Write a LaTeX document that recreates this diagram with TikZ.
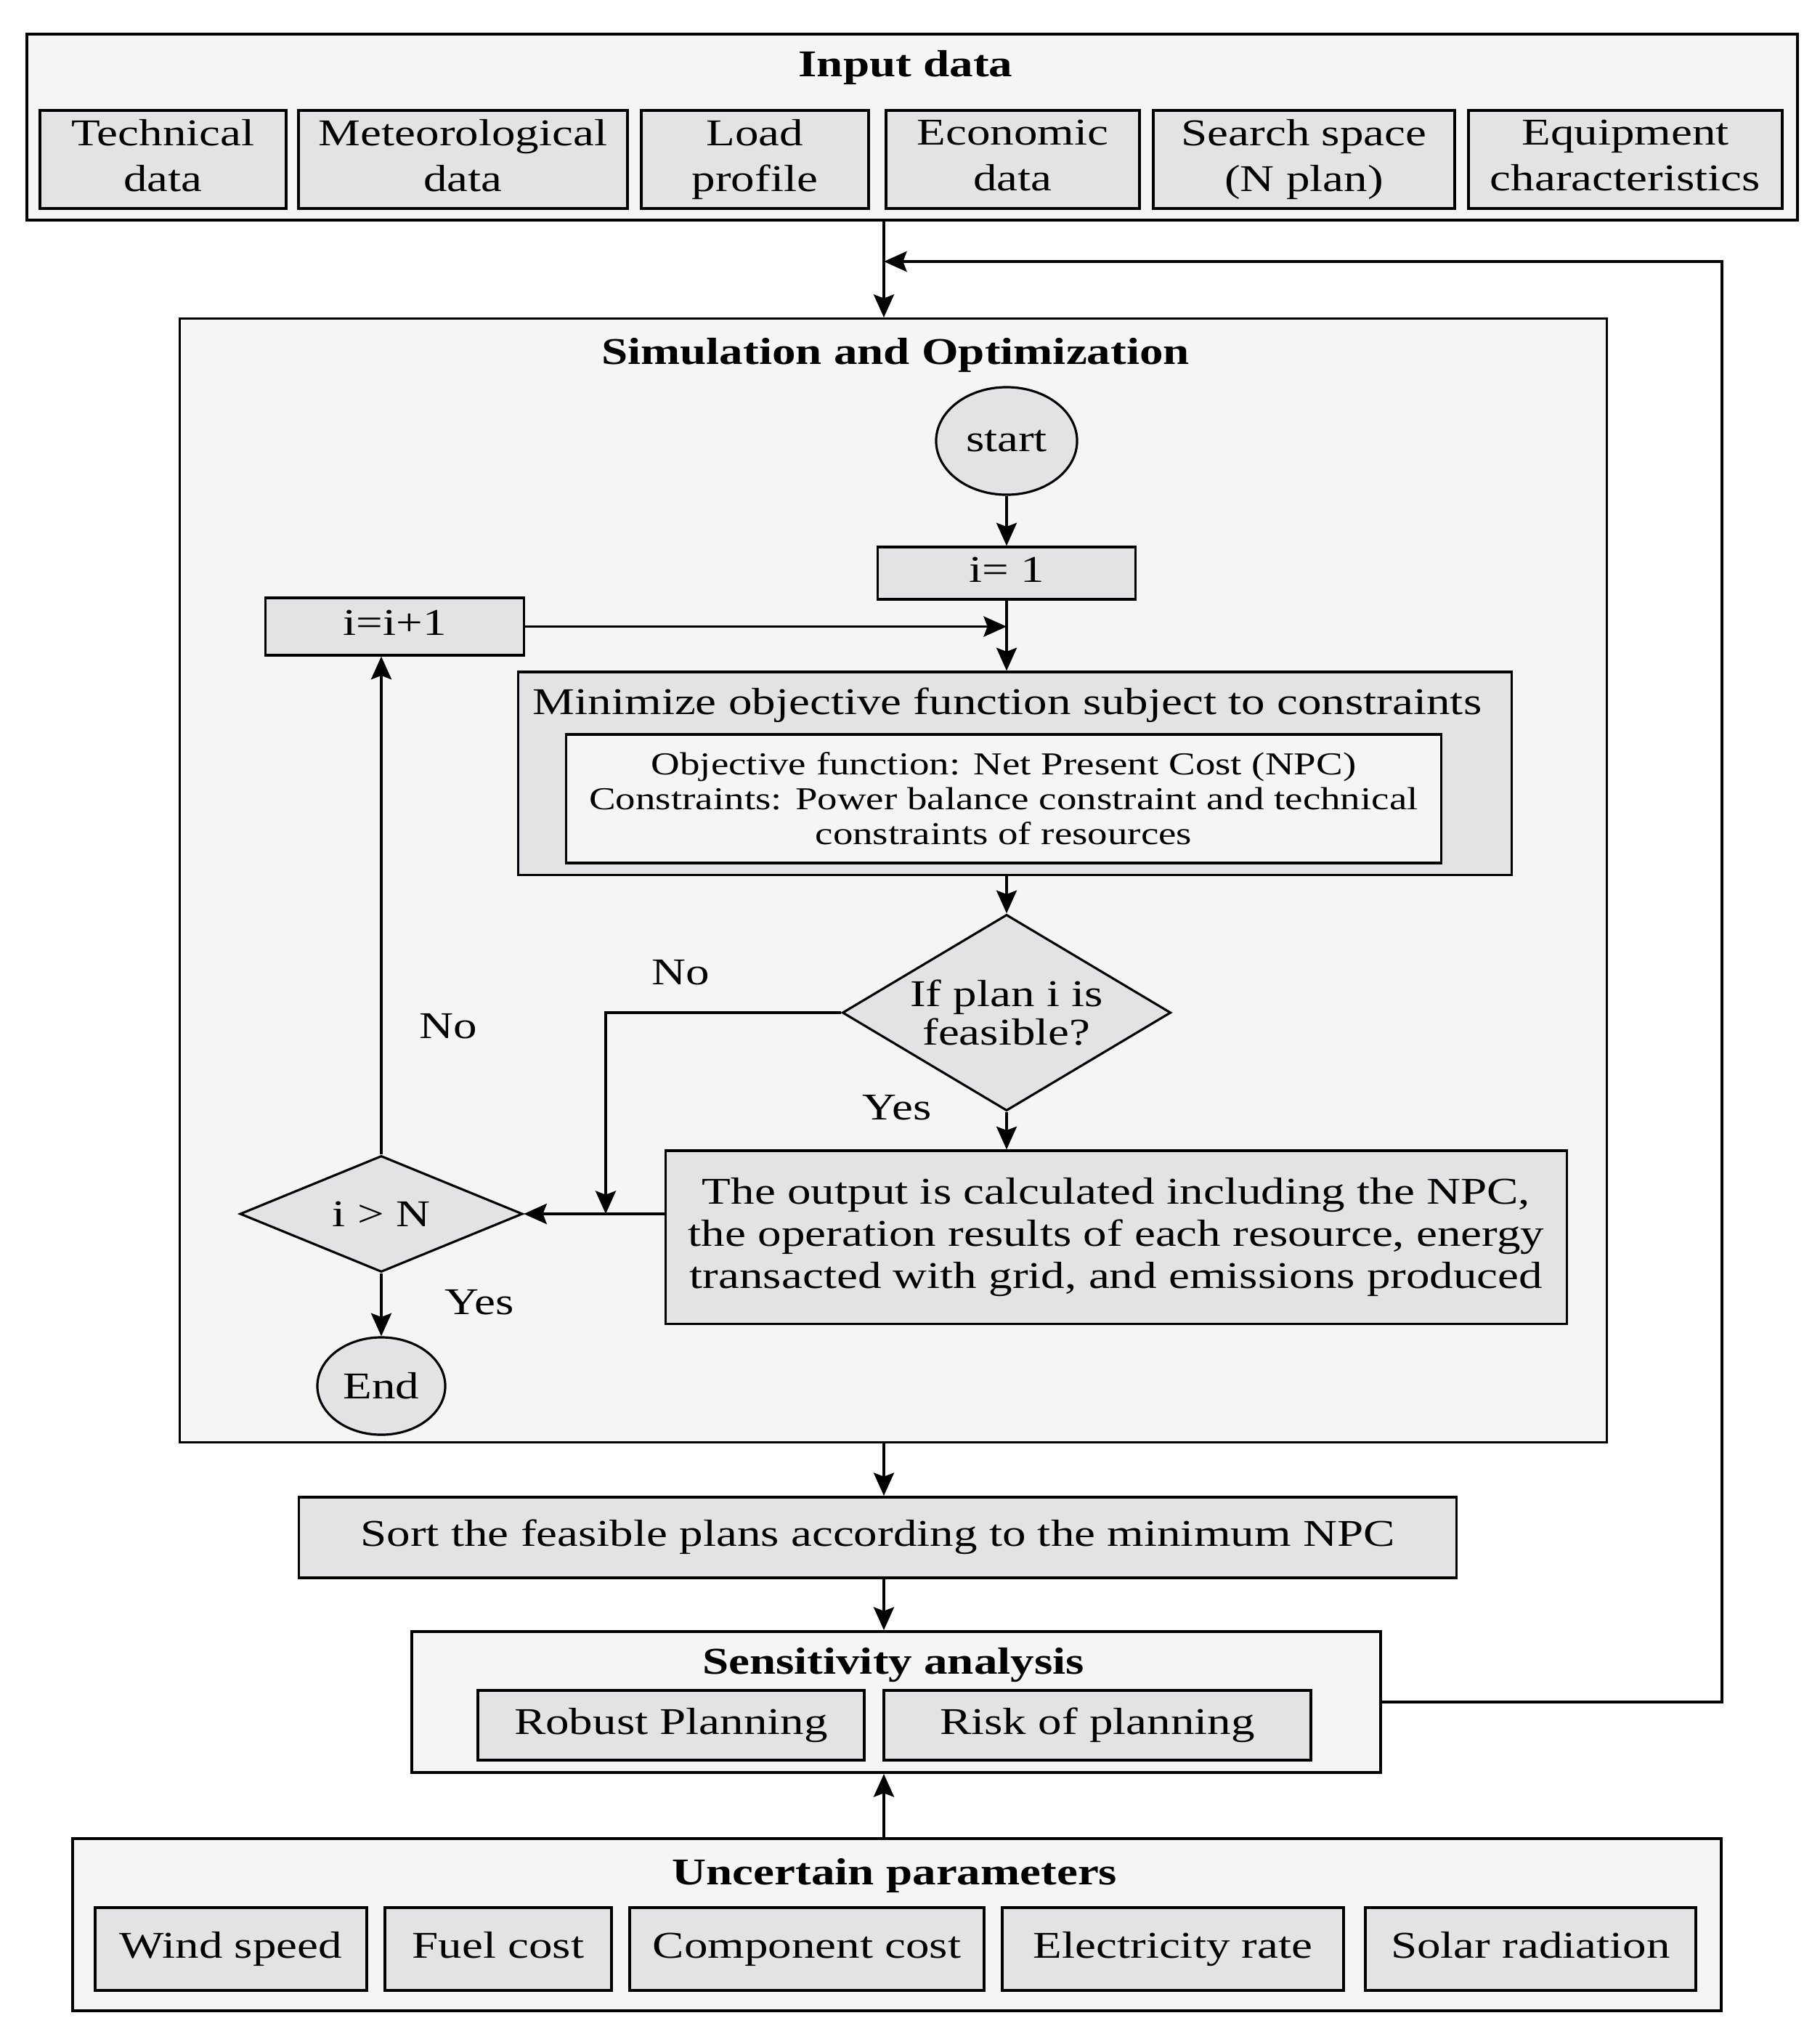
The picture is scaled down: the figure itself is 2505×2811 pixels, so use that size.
\documentclass[tikz,border=0pt]{standalone}
\usepackage{fontspec}
\setmainfont{Liberation Serif}[FakeStretch=1.25]
\usetikzlibrary{arrows.meta,shapes.geometric}
\definecolor{lightbg}{HTML}{F5F5F5}
\definecolor{boxgray}{HTML}{E3E3E5}
\newcommand{\bstrut}{\rule[-0.23em]{0pt}{0.93em}}
\begin{document}
\begin{tikzpicture}[x=0.01cm,y=-0.01cm,
  font=\fontsize{14.8}{17.9}\selectfont,
  outerbox/.style={draw, line width=1.1pt, fill=lightbg, inner sep=0pt},
  graybox/.style={draw, line width=1.1pt, fill=boxgray, inner sep=0pt, align=center,
     execute at begin node=\bstrut, execute at end node=\bstrut},
  flowbox/.style={draw, line width=0.9pt, fill=boxgray, inner sep=0pt, align=center,
     execute at begin node=\bstrut, execute at end node=\bstrut},
  decision/.style={diamond, draw, line width=0.9pt, fill=boxgray, inner sep=0pt, align=center},
  terminal/.style={ellipse, draw, line width=0.9pt, fill=boxgray, inner sep=0pt},
  arr/.style={-{Stealth[length=9pt,width=8pt,inset=1.5pt]}, line width=0.9pt},
  lbl/.style={inner sep=0pt},
  titlefont/.style={font=\fontsize{14.8}{17.9}\selectfont\bfseries, inner sep=0pt}]
\useasboundingbox (0,0) rectangle (2505,2811);

% helper coordinates
\coordinate (mainx) at (1217,0);
\coordinate (cx) at (1386,0);
\coordinate (nox) at (834,0);
\coordinate (loopR) at (2371,360);

% Input data
\node[outerbox, minimum width=24.36cm, minimum height=2.56cm] (input) at (1256,175) {};
\node[titlefont] (inputT) at (1247,93) {Input data};
\node[graybox, minimum width=3.39cm, minimum height=1.35cm] (tech) at (224.5,219.5) {Technical\\data};
\node[graybox, minimum width=4.53cm, minimum height=1.35cm] (meteo) at (637.5,219.5) {Meteorological\\data};
\node[graybox, minimum width=3.13cm, minimum height=1.35cm] (load) at (1039.5,219.5) {Load\\profile};
\node[graybox, minimum width=3.49cm, minimum height=1.35cm] (econ) at (1394.5,219.5) {Economic\\data};
\node[graybox, minimum width=4.15cm, minimum height=1.35cm] (search) at (1795.5,219.5) {Search space\\(N plan)};
\node[graybox, minimum width=4.32cm, minimum height=1.35cm] (equip) at (2238,219.5) {Equipment\\characteristics};

% Simulation and optimization
\node[outerbox, line width=0.9pt, minimum width=19.64cm, minimum height=15.46cm] (sim) at (1230,1212) {};
\node[titlefont] (simT) at (1233,489) {Simulation and Optimization};
\node[terminal, minimum width=1.94cm, minimum height=1.48cm] (start) at (1386,607) {start};
\node[flowbox, minimum width=3.55cm, minimum height=0.72cm] (i1) at (1386,789) {i= 1};
\node[flowbox, minimum width=3.55cm, minimum height=0.79cm] (inc) at (543.5,862.5) {i=i+1};
\node[draw, line width=0.9pt, fill=boxgray, inner sep=0pt, minimum width=13.67cm, minimum height=2.79cm] (min) at (1397.5,1064.5) {};
\node[lbl] (minT) at (1387,971) {Minimize objective function subject to constraints};
\node[draw, line width=0.9pt, fill=lightbg, inner sep=0pt, align=center,
      minimum width=12.04cm, minimum height=1.77cm,
      font=\fontsize{12.5}{13.7}\selectfont] (inner) at (1382,1099.5)
      {Objective function: Net Present Cost (NPC)\\Constraints: Power balance constraint and technical\\constraints of resources};
\node[decision, shape aspect=1.67, minimum width=4.52cm, minimum height=2.70cm,
      font=\fontsize{14.8}{15.1}\selectfont] (feas) at (1386,1394) {If plan i is\\feasible?};
\node[flowbox, minimum width=12.40cm, minimum height=2.38cm,
      font=\fontsize{14.8}{16.5}\selectfont] (out) at (1537,1703)
      {The output is calculated including the NPC,\\the operation results of each resource, energy\\transacted with grid, and emissions produced};
\node[decision, shape aspect=2.43, minimum width=3.89cm, minimum height=1.60cm] (ineq) at (525,1671) {i > N};
\node[terminal, minimum width=1.76cm, minimum height=1.34cm] (end) at (525,1908) {End};
\node[lbl] (noA) at (937,1339) {No};
\node[lbl] (noB) at (617,1413) {No};
\node[lbl] (yesA) at (1235,1525) {Yes};
\node[lbl] (yesB) at (660,1793) {Yes};

% Sort
\node[graybox, minimum width=15.93cm, minimum height=1.11cm] (sort) at (1208.5,2116.5) {Sort the feasible plans according to the minimum NPC};

% Sensitivity
\node[outerbox, minimum width=13.34cm, minimum height=1.94cm] (sens) at (1234,2343) {};
\node[titlefont] (sensT) at (1230,2292) {Sensitivity analysis};
\node[graybox, minimum width=5.32cm, minimum height=0.96cm] (robust) at (924,2375) {Robust Planning};
\node[graybox, minimum width=5.88cm, minimum height=0.96cm] (risk) at (1511,2375) {Risk of planning};

% Uncertain parameters
\node[outerbox, minimum width=22.68cm, minimum height=2.37cm] (unc) at (1235,2649.5) {};
\node[titlefont] (uncT) at (1232,2582) {Uncertain parameters};
\node[graybox, minimum width=3.74cm, minimum height=1.14cm] (wind) at (318,2683) {Wind speed};
\node[graybox, minimum width=3.12cm, minimum height=1.14cm] (fuel) at (686,2683) {Fuel cost};
\node[graybox, minimum width=4.88cm, minimum height=1.14cm] (comp) at (1111,2683) {Component cost};
\node[graybox, minimum width=4.70cm, minimum height=1.14cm] (elec) at (1615,2683) {Electricity rate};
\node[graybox, minimum width=4.55cm, minimum height=1.14cm] (solar) at (2107.5,2683) {Solar radiation};

% Connectors
\draw[arr] (input.south -| mainx) -- (sim.north -| mainx);
\draw[arr] (sens.east) -- (sens.east -| loopR) -- (loopR) -- (loopR -| mainx);
\draw[arr] (sim.south -| mainx) -- (sort.north -| mainx);
\draw[arr] (sort.south -| mainx) -- (sens.north -| mainx);
\draw[arr] (unc.north -| mainx) -- (sens.south -| mainx);
\draw[arr] (start.south) -- (i1.north);
\draw[arr] (i1.south) -- (min.north -| cx);
\draw[arr] (inc.east) -- (inc.east -| cx);
\draw[arr] (min.south -| cx) -- (feas.north);
\draw[arr] (feas.south) -- (out.north -| cx);
\draw[arr] (feas.west) -- (feas.west -| nox) -- (ineq.east -| nox);
\draw[arr] (out.west |- ineq.east) -- (ineq.east);
\draw[arr] (ineq.north) -- (ineq.north |- inc.south);
\draw[arr] (ineq.south) -- (end.north);
\end{tikzpicture}
\end{document}
